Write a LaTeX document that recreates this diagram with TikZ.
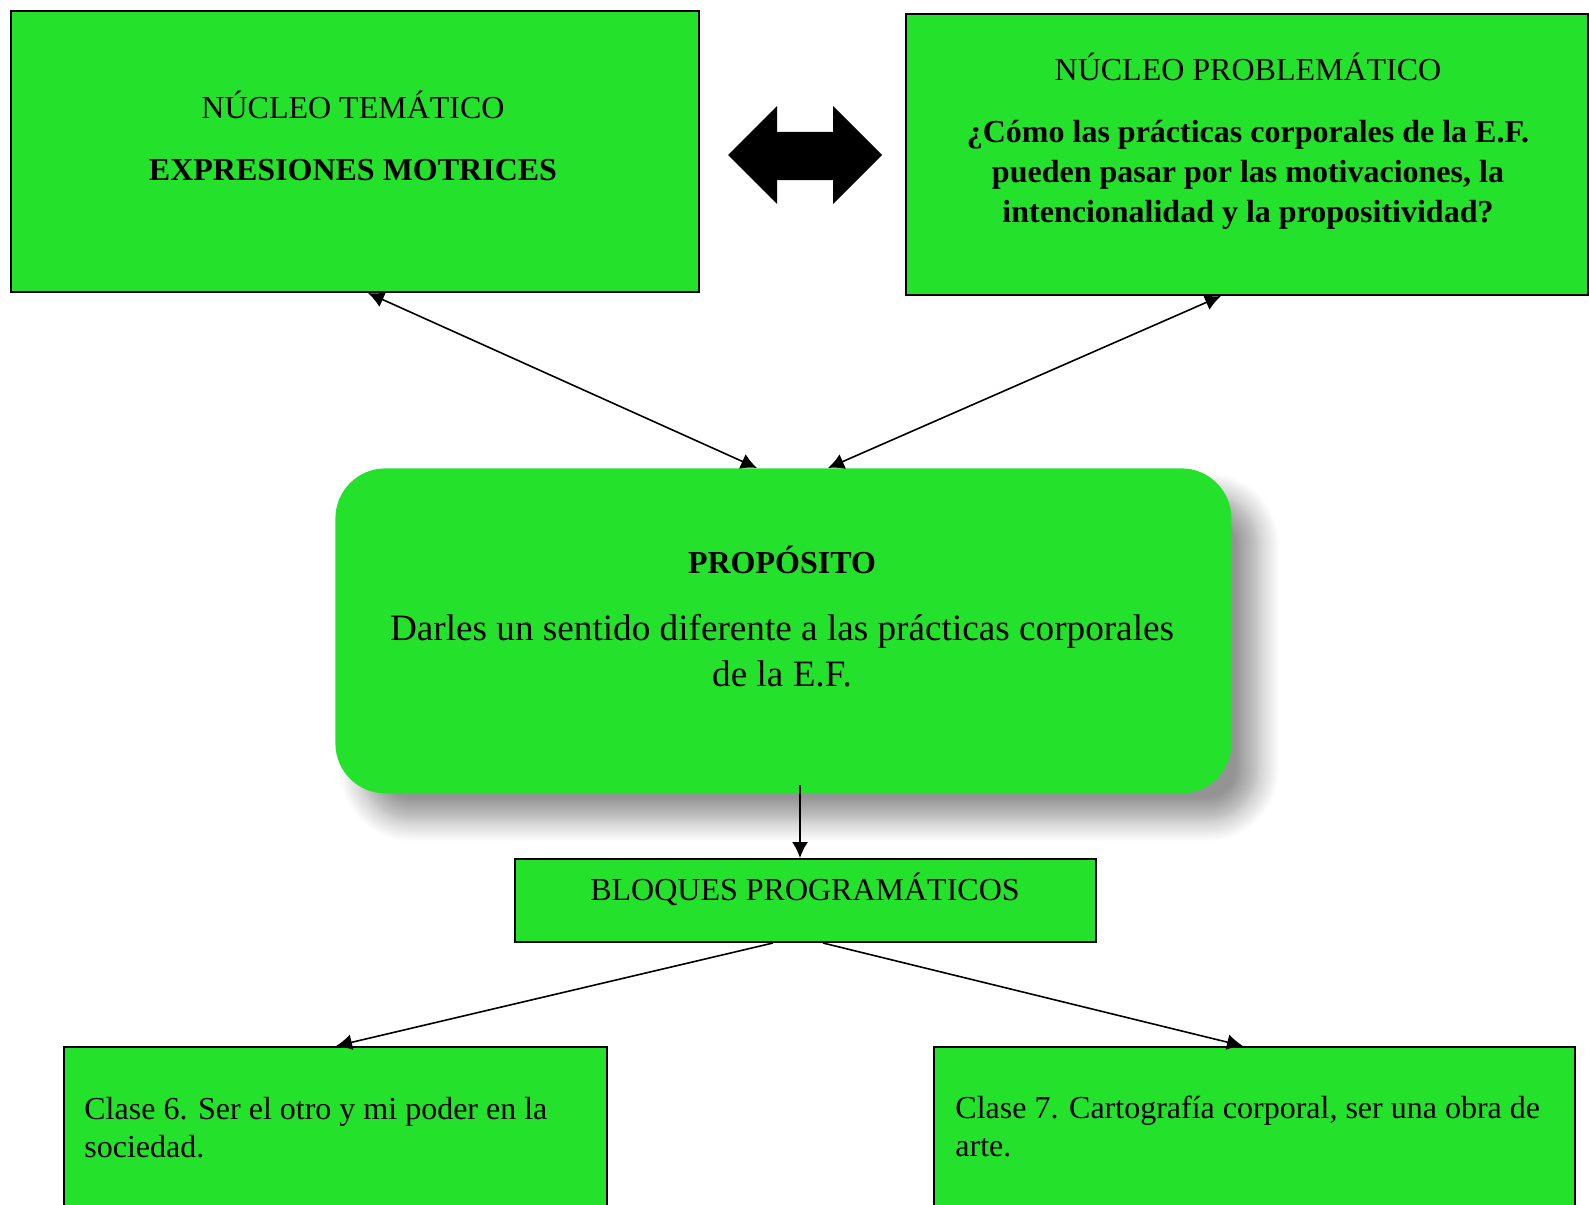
\documentclass[tikz,border=0pt]{standalone}
\usepackage{fontspec}
\setmainfont{Liberation Serif}
\usetikzlibrary{arrows.meta,positioning,calc,shadows.blur}
\definecolor{boxgreen}{RGB}{36,226,44}

\tikzset{
  greenbox/.style={draw=black,line width=1pt,fill=boxgreen,inner sep=0pt,anchor=north west},
  boxtext/.style={inner sep=0pt,anchor=base,align=center,font={\fontsize{16}{20}\selectfont}},
  link/.style={line width=0.8pt,-{Latex[length=8pt,width=8pt]}},
  twolink/.style={line width=0.8pt,{Latex[length=8pt,width=8pt]}-{Latex[length=8pt,width=8pt]}},
}

\begin{document}
\begin{tikzpicture}[x=0.5pt,y=-0.5pt]
\useasboundingbox (0,0) rectangle (1589,1204);

% top row
\node[greenbox,minimum width=344pt,minimum height=140.5pt] (tematico) at (10,10) {};
\node[greenbox,minimum width=341pt,minimum height=140.5pt] (problematico) at (905,13) {};

\node[boxtext] (tematicoTitle) at (353,119) {NÚCLEO TEMÁTICO};
\node[boxtext] (tematicoName) at (353,180) {\bfseries EXPRESIONES MOTRICES};

\node[boxtext] (problemTitle) at (1248,81) {NÚCLEO PROBLEMÁTICO};
\node[boxtext] (problemQuestion) at (1248,222) {\bfseries ¿Cómo las prácticas corporales de la E.F.\\
  \bfseries pueden pasar por las motivaciones, la\\
  \bfseries intencionalidad y la propositividad?};

% big double arrow between them
\fill (728,155) -- (777,106) -- (777,132) -- (833,132) -- (833,106) -- (882,155)
  -- (833,204) -- (833,180) -- (777,180) -- (777,204) -- cycle;

% purpose
\node[anchor=north west,fill=boxgreen,rounded corners=25pt,inner sep=0pt,
  minimum width=448pt,minimum height=162.5pt,
  blur shadow={shadow xshift=13pt,shadow yshift=-13pt,shadow blur radius=11pt,shadow blur steps=12,shadow opacity=42}]
  (proposito) at (335,468) {};
\node[boxtext] (propositoTitle) at (782,573) {\bfseries PROPÓSITO};
\node[boxtext,font={\fontsize{18.6}{23}\selectfont}] (propositoText) at (782,686)
  {Darles un sentido diferente a las prácticas corporales\\ de la E.F.};

% blocks
\node[greenbox,minimum width=290.5pt,minimum height=41.5pt] (bloques) at (514,858) {};
\node[boxtext] (bloquesTitle) at (805,900) {BLOQUES PROGRAMÁTICOS};

\node[greenbox,minimum width=271.5pt,minimum height=100pt] (claseSeis) at (63,1046) {};
\node[greenbox,minimum width=320.5pt,minimum height=100pt] (claseSiete) at (933,1046) {};
\node[boxtext,anchor=base west,align=left,font={\fontsize{16}{18.75}\selectfont}] (claseSeisText) at (84,1157)
  {Clase 6. Ser el otro y mi poder en la\\ sociedad.};
\node[boxtext,anchor=base west,align=left,font={\fontsize{16}{18.75}\selectfont}] (claseSieteText) at (955,1156)
  {Clase 7. Cartografía corporal, ser una obra de\\ arte.};

% connectors
\draw[twolink] ($(tematico.south west)+(358,0)$) -- ($(proposito.north west)+(422,0)$);
\draw[twolink] ($(problematico.south west)+(316,0)$) -- ($(proposito.north west)+(493,0)$);
\draw[link] ($(proposito.south west)+(465,-9)$) -- ($(bloques.north west)+(286,0)$);
\draw[link] ($(bloques.south west)+(259,0)$) -- ($(claseSeis.north west)+(273,0)$);
\draw[link] ($(bloques.south west)+(309,0)$) -- ($(claseSiete.north west)+(310,0)$);
\end{tikzpicture}
\end{document}
